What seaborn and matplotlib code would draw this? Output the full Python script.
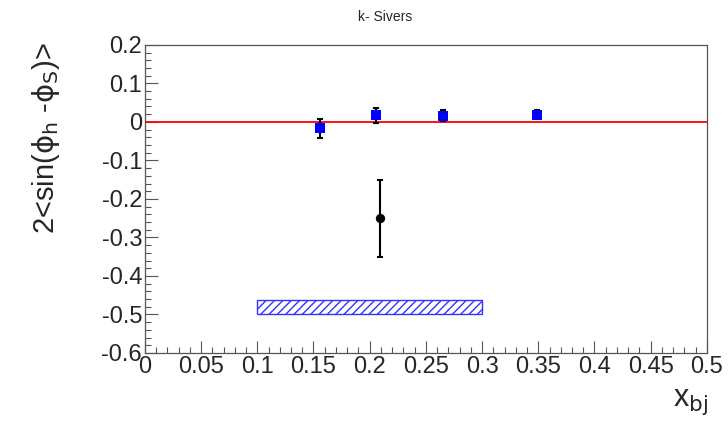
import numpy as np
import pandas as pd
import seaborn as sns
import matplotlib.pyplot as plt
from matplotlib.patches import Rectangle
from matplotlib.ticker import MultipleLocator

# blue points (k- Sivers asymmetry per x bin)
x_bins = [0.156, 0.2055, 0.265, 0.349]
asym = [-0.017, 0.017, 0.016, 0.019]
asym_err = [0.025, 0.020, 0.015, 0.012]

# black point (single value)
x_single = [0.209]
y_single = [-0.25]
y_single_err = [0.10]

# hatched systematic band
band_x = [0.1, 0.3]
band_y = [-0.498, -0.462]

sns.set_style("ticks")
plt.rcParams["font.family"] = ["Liberation Sans", "DejaVu Sans"]
plt.rcParams["hatch.color"] = "#3333ff"

fig = plt.figure(figsize=(7.28, 4.23), dpi=100)
ax = fig.add_axes([0.199, 0.1655, 0.772, 0.7285])

dt = pd.DataFrame({"x": x_bins, "y": asym})
ax.errorbar(x_bins, asym, yerr=asym_err, fmt="none", ecolor="black",
            elinewidth=1.5, capsize=2, capthick=1.5, zorder=3)
sns.scatterplot(data=dt, x="x", y="y", ax=ax, marker="s", color="#0000ff",
                s=60, edgecolor="#0000ff", linewidth=0, zorder=4)

ax.errorbar(x_single, y_single, yerr=y_single_err, fmt="none", ecolor="black",
            elinewidth=1.5, capsize=2, capthick=1.5, zorder=3)
sns.scatterplot(x=x_single, y=y_single, ax=ax, marker="o", color="black",
                s=45, linewidth=0, zorder=4)

ax.axhline(0, color="red", lw=1.3, zorder=2)

ax.add_patch(Rectangle((band_x[0], band_y[0]), band_x[1] - band_x[0],
                       band_y[1] - band_y[0], facecolor="none",
                       edgecolor="#3333ff", hatch="////", lw=1.0))

ax.set_xlim(0, 0.5)
ax.set_ylim(-0.6, 0.2)
ax.xaxis.set_minor_locator(MultipleLocator(0.01))
ax.yaxis.set_minor_locator(MultipleLocator(0.02))
ax.set_xticks(np.arange(0, 0.501, 0.05))
ax.set_xticklabels(["0", "0.05", "0.1", "0.15", "0.2", "0.25", "0.3",
                    "0.35", "0.4", "0.45", "0.5"])
ax.set_yticks(np.arange(-0.6, 0.201, 0.1))
ax.set_yticklabels(["-0.6", "-0.5", "-0.4", "-0.3", "-0.2", "-0.1", "0",
                    "0.1", "0.2"])
ax.tick_params(axis="both", which="major", direction="in", length=9,
               width=0.8, labelsize=17, color="#555555", pad=2)
ax.tick_params(axis="both", which="minor", direction="in", length=4.5,
               width=0.8, color="#555555")
for sp in ax.spines.values():
    sp.set_visible(True)
    sp.set_color("#555555")
    sp.set_linewidth(0.9)

ax.set_xlabel("")
ax.set_ylabel("")
fig.text(0.948, 0.04, r"x$_{\mathrm{bj}}$", fontsize=22, ha="center")
fig.text(0.063, 0.674,
         r"2<sin($\mathrm{\phi}_{\mathrm{h}}$ -$\mathrm{\phi}_{\mathrm{S}}$)>",
         fontsize=21, rotation=90, ha="center", va="center")
fig.text(0.529, 0.96, "k- Sivers", fontsize=10, ha="center", va="center")

plt.savefig("out.png", dpi=100)
